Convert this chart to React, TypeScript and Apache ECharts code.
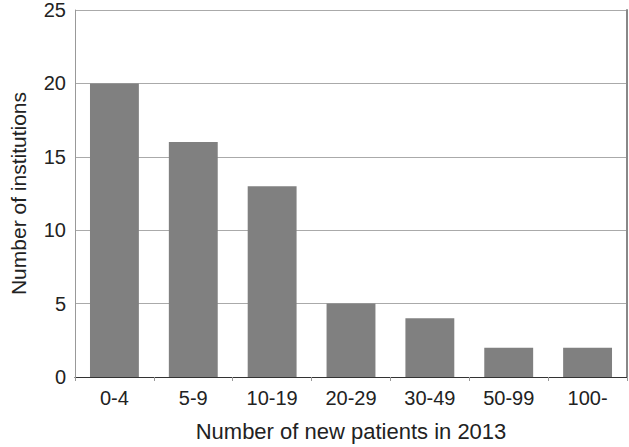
import React, { useEffect, useRef } from "react";
import * as echarts from "echarts";

const categories = ["0-4", "5-9", "10-19", "20-29", "30-49", "50-99", "100-"];
const institutions = [20, 16, 13, 5, 4, 2, 2];
const yTicks = { min: 0, max: 25, interval: 5 };

export default function App() {
  const ref = useRef<HTMLDivElement>(null);
  useEffect(() => {
    const chart = echarts.init(ref.current!, null, { renderer: "svg" });
    const font = "'Liberation Sans', Arial, Helvetica, sans-serif";
    chart.setOption({
      animation: false,
      backgroundColor: "#ffffff",
      grid: { left: 70, right: 2, top: 9, bottom: 68, containLabel: false },
      xAxis: [
        {
          type: "category",
          data: categories,
          axisLine: { lineStyle: { color: "#999999", width: 1 } },
          axisTick: { show: true, length: 4, lineStyle: { color: "#999999" } },
          axisLabel: { color: "#222222", fontSize: 20, fontFamily: font, margin: 11 },
          name: "Number of new patients in 2013",
          nameLocation: "middle",
          nameGap: 43,
          nameTextStyle: { color: "#222222", fontSize: 22, fontFamily: font },
        },
        {
          type: "category",
          position: "top",
          data: categories,
          axisLine: { show: true, lineStyle: { color: "#333333", width: 1 } },
          axisTick: { show: false },
          axisLabel: { show: false },
        },
      ],
      yAxis: [
        {
          type: "value",
          min: yTicks.min,
          max: yTicks.max,
          interval: yTicks.interval,
          axisLine: { show: true, lineStyle: { color: "#999999" } },
          axisTick: { show: false },
          splitLine: { show: true, lineStyle: { color: "#aaaaaa", width: 1 } },
          axisLabel: { color: "#222222", fontSize: 20, fontFamily: font, margin: 9 },
          name: "Number of institutions",
          nameLocation: "middle",
          nameGap: 46,
          nameTextStyle: { color: "#222222", fontSize: 21, fontFamily: font },
        },
        {
          type: "value",
          position: "right",
          min: yTicks.min,
          max: yTicks.max,
          interval: yTicks.interval,
          axisLine: { show: true, lineStyle: { color: "#888888", width: 2 } },
          axisTick: { show: false },
          axisLabel: { show: false },
          splitLine: { show: false },
        },
      ],
      series: [
        {
          type: "bar",
          data: institutions,
          barCategoryGap: "38%",
          itemStyle: { color: "#808080" },
        },
      ],
    });
    return () => chart.dispose();
  }, []);
  return <div ref={ref} style={{ width: 629, height: 447, position: "absolute", left: 0, top: 0 }} />;
}
